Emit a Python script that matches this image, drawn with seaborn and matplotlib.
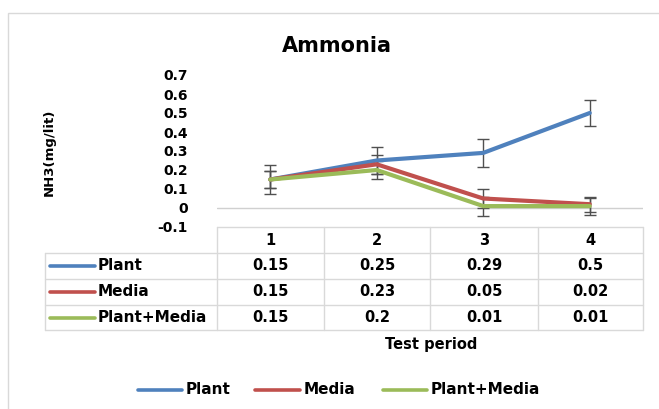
import matplotlib
matplotlib.use("Agg")
import matplotlib.pyplot as plt
import seaborn as sns
import pandas as pd
from matplotlib.lines import Line2D
from matplotlib.patches import Rectangle

# ---- data ----
periods = [1, 2, 3, 4]
series_names = ["Plant", "Media", "Plant+Media"]
plant = [0.15, 0.25, 0.29, 0.5]
media = [0.15, 0.23, 0.05, 0.02]
plant_media = [0.15, 0.2, 0.01, 0.01]
plant_err = [0.075, 0.07, 0.075, 0.07]
media_err = [0.045, 0.05, 0.05, 0.04]
plant_media_err = [0.045, 0.045, 0.05, 0.045]
yticks = [-0.1, 0, 0.1, 0.2, 0.3, 0.4, 0.5, 0.6, 0.7]
ytick_labels = ["-0.1", "0", "0.1", "0.2", "0.3", "0.4", "0.5", "0.6", "0.7"]
colors = ["#4F81BD", "#C0504D", "#9BBB59"]

values = [plant, media, plant_media]
errors = [plant_err, media_err, plant_media_err]

df = pd.DataFrame({
    "period": periods * 3,
    "value": plant + media + plant_media,
    "series": sum([[n] * len(periods) for n in series_names], []),
})

sns.set_theme(style="white")
plt.rcParams["font.family"] = ["DejaVu Sans"]
plt.rcParams["font.weight"] = "bold"
plt.rcParams["text.color"] = "black"
plt.rcParams["ytick.color"] = "black"
plt.rcParams["ytick.labelcolor"] = "black"

W, H = 659, 409
fig = plt.figure(figsize=(W / 100, H / 100), dpi=100)

def fx(x):
    return x / W

def fy(y):
    return 1 - y / H

# plot area: x 217..643 px, y 75..227 px
ax = fig.add_axes([fx(217), fy(227), fx(643) - fx(217), fy(75) - fy(227)])

sns.lineplot(data=df, x="period", y="value", hue="series", hue_order=series_names,
             palette=colors, linewidth=3, ax=ax, legend=False, sort=False)
for vals, errs in zip(values, errors):
    ax.errorbar(periods, vals, yerr=errs, fmt="none", ecolor="#505050",
                elinewidth=1, capsize=4, capthick=1, zorder=1)

ax.set_xlim(0.5, 4.5)
ax.set_ylim(-0.1, 0.7)
ax.set_yticks(yticks)
ax.set_yticklabels(ytick_labels, fontsize=10, fontweight="bold", color="black")
ax.set_xticks([])
ax.set_xlabel("")
ax.set_ylabel("")
ax.tick_params(axis="y", length=0, pad=21)
for s in ax.spines.values():
    s.set_visible(False)
ax.axhline(0, color="#d0d0d0", linewidth=1, zorder=0)
ax.patch.set_alpha(0)

# outer border
fig.add_artist(Rectangle((fx(8), fy(420)), fx(700), fy(13) - fy(420),
                         transform=fig.transFigure, fill=False,
                         edgecolor="#d9d9d9", linewidth=1))

# title and axis labels
fig.text(fx(337), fy(46), "Ammonia", ha="center", va="center",
         fontsize=15, fontweight="bold", color="black")
fig.text(fx(49), fy(152), "NH3(mg/lit)", ha="center", va="center",
         rotation=90, fontsize=9.5, fontweight="bold", color="black")
fig.text(fx(431), fy(345), "Test period", ha="center", va="center",
         fontsize=10.5, fontweight="bold", color="black")

# data table
grid = "#d9d9d9"
col_edges = [217, 324, 430, 538, 643]
row_edges = [227, 253, 279, 305, 330]

def hline(x0, x1, y):
    fig.add_artist(Line2D([fx(x0), fx(x1)], [fy(y), fy(y)], transform=fig.transFigure,
                          color=grid, linewidth=1))

def vline(x, y0, y1):
    fig.add_artist(Line2D([fx(x), fx(x)], [fy(y0), fy(y1)], transform=fig.transFigure,
                          color=grid, linewidth=1))

hline(217, 643, row_edges[0])
for y in row_edges[1:]:
    hline(45, 643, y)
vline(45, row_edges[1], row_edges[-1])
for x in col_edges:
    vline(x, row_edges[0], row_edges[-1])

for j, p in enumerate(periods):
    cx = (col_edges[j] + col_edges[j + 1]) / 2
    fig.text(fx(cx), fy((row_edges[0] + row_edges[1]) / 2), str(p),
             ha="center", va="center", fontsize=10.5, fontweight="bold", color="black")

for i, (name, vals, c) in enumerate(zip(series_names, values, colors)):
    cy = (row_edges[i + 1] + row_edges[i + 2]) / 2
    fig.add_artist(Line2D([fx(50), fx(95)], [fy(cy), fy(cy)], transform=fig.transFigure,
                          color=c, linewidth=2.6, solid_capstyle="round"))
    fig.text(fx(98), fy(cy), name, ha="left", va="center", fontsize=11,
             fontweight="bold", color="black")
    for j, v in enumerate(vals):
        cx = (col_edges[j] + col_edges[j + 1]) / 2
        fig.text(fx(cx), fy(cy), f"{v:g}", ha="center", va="center",
                 fontsize=10.5, fontweight="bold", color="black")

# bottom legend
leg_items = [(138, 182, 186), (255, 300, 304), (383, 427, 431)]
for (x0, x1, tx), name, c in zip(leg_items, series_names, colors):
    fig.add_artist(Line2D([fx(x0), fx(x1)], [fy(390), fy(390)], transform=fig.transFigure,
                          color=c, linewidth=2.6, solid_capstyle="round"))
    fig.text(fx(tx), fy(390), name, ha="left", va="center", fontsize=11,
             fontweight="bold", color="black")

fig.savefig("out.png", dpi=100, facecolor="white")
